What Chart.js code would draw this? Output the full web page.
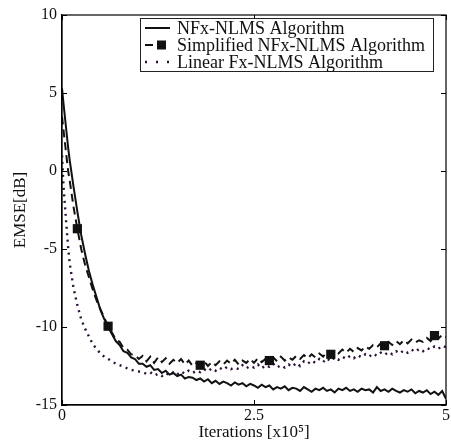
<!DOCTYPE html>
<html>
<head>
<meta charset="utf-8">
<script src="https://cdn.jsdelivr.net/npm/chart.js@4.4.1/dist/chart.umd.min.js"></script>
<style>
  html, body { margin:0; padding:0; background:#fff; }
  #wrap { width:451px; height:443px; }
</style>
</head>
<body>
<div id="wrap"><canvas id="emse" width="451" height="443"></canvas></div>
<script>
// EMSE curves, x in units of 1e5 iterations, y in dB
const iters = [
  0, 0.02, 0.05, 0.08, 0.1, 0.15, 0.2, 0.25, 0.3, 0.35,
  0.4, 0.45, 0.5, 0.55, 0.6, 0.65, 0.7, 0.75, 0.8, 0.85,
  0.9, 0.95, 1.0,
  1.05, 1.1, 1.15, 1.2, 1.25, 1.3, 1.35, 1.4, 1.45, 1.5,
  1.55, 1.6, 1.65, 1.7, 1.75, 1.8, 1.85, 1.9, 1.95, 2.0,
  2.05, 2.1, 2.15, 2.2, 2.25, 2.3, 2.35, 2.4, 2.45, 2.5,
  2.55, 2.6, 2.65, 2.7, 2.75, 2.8, 2.85, 2.9, 2.95, 3.0,
  3.05, 3.1, 3.15, 3.2, 3.25, 3.3, 3.35, 3.4, 3.45, 3.5,
  3.55, 3.6, 3.65, 3.7, 3.75, 3.8, 3.85, 3.9, 3.95, 4.0,
  4.05, 4.1, 4.15, 4.2, 4.25, 4.3, 4.35, 4.4, 4.45, 4.5,
  4.55, 4.6, 4.65, 4.7, 4.75, 4.8, 4.85, 4.9, 4.95, 5.0
];

const nfxNlms = [
  5.3, 4.3, 2.9, 1.5, 0.7, -1.0, -2.6, -4.1, -5.3, -6.4,
  -7.3, -8.1, -8.9, -9.5, -10.0, -10.45, -10.9, -11.15, -11.55, -11.65,
  -11.95, -12.05, -12.35,
  -12.35, -12.55, -12.45, -12.75, -12.7, -12.95, -12.8, -13.05, -12.95, -13.15,
  -13.05, -13.3, -13.2, -13.25, -13.4, -13.3, -13.5, -13.35, -13.6, -13.45,
  -13.65, -13.5, -13.6, -13.75, -13.55, -13.7, -13.6, -13.8, -13.65, -13.75,
  -13.9, -13.7, -13.85, -13.75, -14.0, -13.85, -13.95, -13.8, -14.05, -13.9,
  -13.95, -14.1, -13.85, -14.0, -14.15, -13.95, -14.05, -13.9, -14.1, -14.0,
  -14.2, -13.95, -14.05, -13.9, -14.1, -14.0, -14.15, -13.95, -14.05, -14.0,
  -14.2, -13.85, -14.1, -14.0, -14.15, -13.95, -14.1, -14.2, -14.05, -14.15,
  -14.0, -14.25, -14.1, -14.2, -14.05, -14.3, -14.15, -14.35, -14.1, -14.6
];

const simplifiedNfx = [
  3.5, 2.6, 1.3, 0.0, -0.6, -2.3, -3.7, -5.0, -6.0, -6.8,
  -7.6, -8.3, -8.85, -9.4, -9.95, -10.35, -10.8, -10.95, -11.35, -11.45,
  -11.75, -11.8, -12.05,
  -11.85, -12.2, -11.9, -12.3, -11.95, -12.25, -12.0, -12.35, -12.1, -12.3,
  -12.05, -12.4, -12.15, -12.5, -12.3, -12.45, -12.2, -12.5, -12.25, -12.45,
  -12.2, -12.4, -12.15, -12.35, -12.1, -12.4, -12.15, -12.3, -12.05, -12.3,
  -12.0, -12.25, -12.05, -12.15, -11.95, -12.2, -11.9, -12.15, -11.95, -12.1,
  -11.85, -12.05, -11.8, -12.0, -11.75, -11.95, -11.7, -11.9, -11.6, -11.75,
  -11.5, -11.7, -11.45, -11.65, -11.4, -11.6, -11.35, -11.5, -11.25, -11.4,
  -11.15, -11.3, -11.05, -11.2, -10.95, -11.15, -10.9, -11.1, -10.85, -11.05,
  -10.8, -11.0, -10.85, -10.95, -10.7, -10.9, -10.55, -10.75, -10.5, -10.65
];

const linearFx = [
  1.0, -1.0, -3.0, -4.9, -5.9, -7.5, -8.6, -9.5, -10.1, -10.6,
  -11.1, -11.4, -11.7, -11.9, -12.05, -12.2, -12.35, -12.45, -12.55, -12.65,
  -12.75, -12.8, -12.85,
  -12.9, -13.0, -12.9, -13.1, -13.0, -13.15, -12.95, -13.1, -12.9, -13.05,
  -12.85, -13.0, -12.8, -12.95, -12.8, -12.9, -12.7, -12.85, -12.65, -12.8,
  -12.6, -12.75, -12.55, -12.7, -12.6, -12.7, -12.45, -12.65, -12.5, -12.6,
  -12.4, -12.65, -12.45, -12.55, -12.35, -12.6, -12.45, -12.6, -12.4, -12.55,
  -12.3, -12.5, -12.2, -12.35, -12.15, -12.3, -12.05, -12.25, -12.0, -12.2,
  -11.95, -12.1, -11.9, -12.05, -11.85, -12.0, -11.8, -11.95, -11.75, -11.9,
  -11.7, -11.85, -11.65, -11.8, -11.6, -11.75, -11.55, -11.7, -11.5, -11.65,
  -11.45, -11.6, -11.4, -11.55, -11.35, -11.45, -11.25, -11.4, -11.2, -11.3
];

// square markers on the simplified curve
const markerIters = [0.2, 0.6, 1.8, 2.7, 3.5, 4.2, 4.85];

const xTicks = [0, 2.5, 5];
const yTicks = [-15, -10, -5, 0, 5, 10];
const seriesNames = ['NFx-NLMS Algorithm', 'Simplified NFx-NLMS Algorithm', 'Linear Fx-NLMS Algorithm'];

const FONT = '"Liberation Serif", "Times New Roman", serif';
const pts = arr => iters.map((x, i) => ({x, y: arr[i]}));

// frame, inward ticks and boxed legend (matlab look)
const matlabFrame = {
  id: 'matlabFrame',
  afterDraw(chart){
    const {ctx, chartArea: a, scales} = chart;
    ctx.save();
    ctx.strokeStyle = '#000'; ctx.lineWidth = 1.2;
    ctx.strokeRect(a.left, a.top, a.right - a.left, a.bottom - a.top);
    ctx.lineWidth = 1;
    ctx.beginPath();
    xTicks.forEach(v => {
      const px = Math.round(scales.x.getPixelForValue(v)) + 0.5;
      ctx.moveTo(px, a.bottom); ctx.lineTo(px, a.bottom - 5);
      ctx.moveTo(px, a.top); ctx.lineTo(px, a.top + 5);
    });
    yTicks.forEach(v => {
      const py = Math.round(scales.y.getPixelForValue(v)) + 0.5;
      ctx.moveTo(a.left, py); ctx.lineTo(a.left + 5, py);
      ctx.moveTo(a.right, py); ctx.lineTo(a.right - 5, py);
    });
    ctx.stroke();

    // legend box
    const bx = 140, by = 18, bw = 293, bh = 53;
    ctx.fillStyle = '#fff';
    ctx.fillRect(bx, by, bw, bh);
    ctx.strokeStyle = '#222'; ctx.lineWidth = 1;
    ctx.strokeRect(bx + 0.5, by + 0.5, bw, bh);
    const rows = [28, 45, 62];
    ctx.font = '18px ' + FONT;
    ctx.textBaseline = 'middle';
    chart.data.datasets.forEach((ds, i) => {
      const y = rows[i];
      ctx.strokeStyle = ds.borderColor;
      ctx.lineWidth = ds.borderWidth;
      ctx.setLineDash(i === 0 ? [] : (i === 1 ? [8, 5] : [2, 9]));
      ctx.beginPath();
      ctx.moveTo(145, y); ctx.lineTo(i === 1 ? 158 : 170, y);
      ctx.stroke();
      ctx.setLineDash([]);
      if (i === 1) { ctx.fillStyle = '#111'; ctx.fillRect(157, y - 4.5, 9, 9); }
      ctx.fillStyle = '#111';
      ctx.fillText(ds.label, 177, y + 1);
    });
    ctx.restore();
  }
};

new Chart(document.getElementById('emse'), {
  type: 'line',
  data: {
    datasets: [
      { label: seriesNames[0], data: pts(nfxNlms), borderColor: '#111', borderWidth: 2,
        pointRadius: 0, tension: 0 },
      { label: seriesNames[1], data: pts(simplifiedNfx), borderColor: '#111', borderWidth: 2,
        borderDash: [8, 5], tension: 0, pointStyle: 'rect', backgroundColor: '#111', pointBorderWidth: 0,
        pointRadius: c => markerIters.includes(iters[c.dataIndex]) ? 6.5 : 0 },
      { label: seriesNames[2], data: pts(linearFx), borderColor: '#2a1236', borderWidth: 2.4,
        borderDash: [2, 4.5], pointRadius: 0, tension: 0 }
    ]
  },
  options: {
    responsive: false,
    animation: false,
    layout: { padding: { top: 15, right: 2, left: 0, bottom: 0 }, autoPadding: false },
    plugins: { legend: { display: false }, tooltip: { enabled: false } },
    scales: {
      x: {
        type: 'linear', min: 0, max: 5,
        afterBuildTicks: s => { s.ticks = xTicks.map(v => ({value: v})); },
        afterFit: s => { s.height = 38; },
        grid: { drawOnChartArea: false, drawTicks: false },
        border: { color: '#000', width: 1.2 },
        ticks: { color: '#111', padding: 1, font: { family: FONT, size: 16 }, maxRotation: 0 },
        title: { display: true, text: 'Iterations [x10⁵]', color: '#111', padding: { top: 0, bottom: 0 },
                 font: { family: FONT, size: 17 } }
      },
      y: {
        min: -15, max: 10,
        afterBuildTicks: s => { s.ticks = yTicks.map(v => ({value: v})); },
        afterFit: s => { s.width = 62; },
        grid: { drawOnChartArea: false, drawTicks: false },
        border: { color: '#000', width: 1.2 },
        ticks: { color: '#111', padding: 5, font: { family: FONT, size: 16 } },
        title: { display: true, text: 'EMSE[dB]', color: '#111', padding: { top: 10, bottom: 0 },
                 font: { family: FONT, size: 17 } }
      }
    }
  },
  plugins: [matlabFrame]
});
</script>
</body>
</html>
